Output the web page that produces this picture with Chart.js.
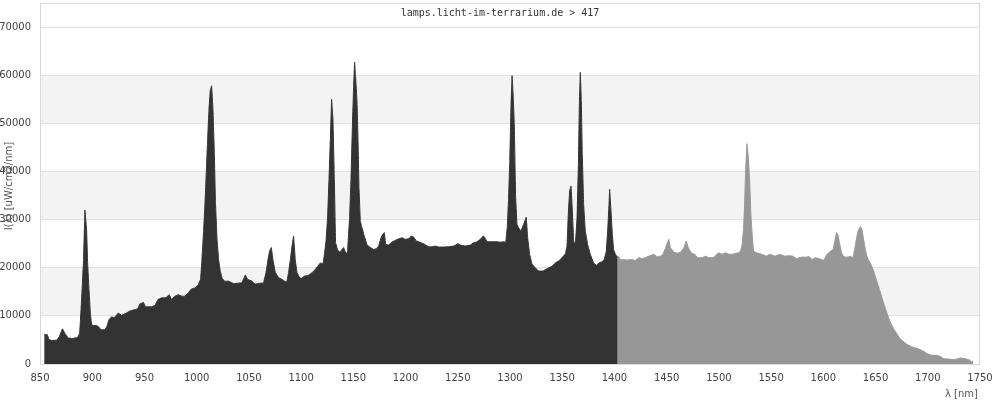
<!DOCTYPE html>
<html>
<head>
<meta charset="utf-8">
<script src="https://cdn.jsdelivr.net/npm/chart.js@4/dist/chart.umd.min.js"></script>
<style>
  html, body { margin: 0; padding: 0; background: #fff; }
  #wrap { width: 1000px; height: 400px; }
</style>
</head>
<body>
<div id="wrap"><canvas id="spectrum"></canvas></div>
<script>
// Titel und Achsen
const titleText = 'lamps.licht-im-terrarium.de > 417';
const yTitle = 'I(λ) [uW/cm2/nm]';
const xTitle = 'λ [nm]';

// Messwerte, dunkler Teil (bis ~1403 nm)
const darkNm = [854, 857, 858.5, 861, 866, 868.5, 871.5, 874, 877, 881, 886, 888, 889.3, 890.5, 891.7, 893, 894.6, 895.6, 896.9, 898.2,
  899.4, 901, 904, 906, 907.5, 909, 912, 914, 916, 918.5, 921, 925, 928, 932, 936, 941, 943.5, 945.7, 949, 951,
  953, 957, 960, 963, 966.5, 970, 971.5, 973.8, 976, 979, 982.4, 985.6, 988.8, 992, 995, 998.4, 1001.6, 1003.8, 1005, 1006.6,
  1008, 1009.2, 1010.5, 1011.8, 1013, 1014.3, 1015.6, 1016.9, 1018, 1019.5, 1021, 1022.6, 1024.3, 1026.5, 1030.6, 1035.4, 1040, 1043.4, 1045, 1046.6,
  1048.8, 1053, 1056, 1061, 1064, 1066.4, 1068.3, 1069.8, 1071.5, 1073, 1075.3, 1078.5, 1081.7, 1084.9, 1086.5, 1088, 1089.7, 1091.3, 1092.8, 1094.4,
  1096, 1098.6, 1100.5, 1103, 1107, 1110.4, 1113.6, 1115.8, 1118.4, 1121, 1122.5, 1124, 1125.4, 1126.7, 1128, 1129.2, 1130.5, 1131.8, 1133, 1135,
  1136.9, 1138.5, 1140.7, 1142.6, 1143.5, 1144.5, 1146.4, 1147.8, 1149, 1150.3, 1151.2, 1152.2, 1153.5, 1154.5, 1155.4, 1156.7, 1158.3, 1160.5, 1163, 1165.5,
  1169.4, 1172, 1174.2, 1176.5, 1178, 1179.7, 1181, 1183.8, 1186, 1190.2, 1193.3, 1196.6, 1199.8, 1203, 1205.5, 1207.7, 1210.3, 1213.5, 1217.3, 1221,
  1223.5, 1228.5, 1231.6, 1236.4, 1241.2, 1246, 1250, 1252.5, 1257.2, 1262, 1265.2, 1268.4, 1271.6, 1274.2, 1275.5, 1278, 1283, 1287.7, 1290.7, 1294,
  1296, 1297.4, 1298.6, 1299.8, 1301, 1302, 1302.9, 1304.1, 1305.4, 1306.7, 1308.3, 1310.5, 1313, 1315.6, 1316.9, 1318.8, 1321, 1324.2, 1327.4, 1331.6,
  1335.4, 1340.2, 1343.4, 1346.6, 1349.8, 1353, 1354.6, 1355.8, 1357.1, 1358.4, 1359.4, 1361, 1362.6, 1364.2, 1365.5, 1366.4, 1367.3, 1368.3, 1369.2, 1370.5,
  1372.1, 1374.3, 1376.9, 1380, 1382.7, 1385, 1388.1, 1390.3, 1392.2, 1393.5, 1394.8, 1395.4, 1396.7, 1398, 1399.2, 1400.9, 1403];
const darkVal = [6100, 6100, 5100, 4900, 4950, 5700, 7300, 6300, 5400, 5300, 5500, 6400, 11300, 16200, 21700, 32000, 28100, 21000, 15500, 10600,
  8200, 8000, 8000, 7800, 7300, 7100, 7100, 7800, 9200, 9800, 9600, 10600, 10100, 10500, 11000, 11300, 11450, 12500, 12800, 11900,
  11900, 11900, 12150, 13400, 13750, 13750, 13950, 14400, 13400, 14100, 14400, 14100, 14100, 14800, 15600, 15800, 16500, 17600, 21500, 27500,
  33500, 39800, 46700, 53000, 56800, 57800, 53000, 44000, 33500, 25900, 21700, 19300, 17900, 17200, 17200, 16700, 16800, 16900, 17700, 18500,
  17600, 17200, 16600, 16800, 16800, 19000, 21700, 23500, 24200, 21700, 19000, 17900, 17600, 17100, 17200, 19000, 21700, 24500, 26600, 21700,
  19000, 17900, 17800, 18250, 18400, 18950, 19650, 20300, 21000, 20800, 23100, 25900, 30700, 38400, 46700, 55000, 50900, 38400, 25200, 23700,
  23250, 23600, 24200, 23100, 22900, 23500, 30300, 38600, 48800, 57800, 62700, 59600, 54700, 46400, 36700, 29700, 28300, 26600, 24850, 24300,
  23800, 23950, 24500, 26200, 26900, 27300, 24850, 24700, 25200, 25700, 26000, 26250, 25900, 26000, 26600, 26400, 25550, 25300, 25000, 24500,
  24300, 24500, 24300, 24300, 24350, 24500, 25000, 24700, 24500, 24700, 25200, 25400, 25900, 26600, 26400, 25400, 25400, 25400, 25300, 25400,
  25300, 28500, 34200, 42200, 54000, 59900, 56450, 49850, 34570, 29000, 28300, 27600, 29000, 30500, 26250, 22800, 20800, 20000, 19300, 19300,
  19800, 20300, 21000, 21400, 22100, 22900, 24500, 31100, 35950, 37000, 33200, 25500, 24850, 30400, 41500, 54000, 60600, 54700, 43600, 33200,
  27600, 24850, 22800, 21000, 20500, 21000, 21250, 21700, 23450, 27600, 33200, 36300, 31800, 26900, 23800, 22800, 22200];

// Messwerte, heller Teil (ab ~1403 nm)
const grayNm = [1402.5, 1404, 1406, 1408, 1412, 1417, 1420, 1423.3, 1426.5, 1429.7, 1434.5, 1437.7, 1440.9, 1444, 1446.4, 1449, 1450.6, 1452, 1453.6, 1457,
  1460.2, 1463.4, 1466.5, 1468.8, 1470.7, 1473.8, 1477, 1479.3, 1484, 1487, 1490.2, 1495, 1498, 1499.7, 1503, 1506.6, 1509.8, 1513, 1516, 1519.3,
  1521, 1522.3, 1523.6, 1524.6, 1525.5, 1526.9, 1528.1, 1529.4, 1530.7, 1532, 1533.2, 1536, 1541, 1545.6, 1548.8, 1553.6, 1558.4, 1563, 1568, 1571,
  1574.3, 1579, 1584, 1586, 1589.2, 1592.4, 1595.6, 1598.8, 1600.4, 1603.5, 1606.8, 1609.4, 1611, 1612.6, 1614.2, 1615.5, 1617.4, 1619.4, 1622.6, 1625.8,
  1628.4, 1630, 1631.6, 1633.2, 1635.4, 1637, 1638.6, 1640.2, 1641.8, 1643.4, 1645.7, 1648.1, 1650.7, 1652.9, 1655.2, 1657.7, 1660.3, 1662.5, 1664.8, 1667.3,
  1669.9, 1673, 1676.9, 1680.7, 1684.9, 1689.7, 1692.9, 1696, 1699.3, 1704, 1708.9, 1712, 1715.3, 1720, 1725, 1728, 1731.4, 1736, 1739.5, 1741.4, 1743.5];
const grayVal = [22200, 22300, 21600, 21700, 21600, 21700, 21500, 22100, 21900, 22100, 22550, 22800, 22300, 22400, 22800, 24150, 25200, 25900, 24150, 23250,
  23000, 23250, 24150, 25550, 24150, 23000, 22800, 22100, 22100, 22400, 22100, 22100, 22800, 23100, 22800, 23100, 22800, 22800, 23000, 23100,
  23700, 24850, 28000, 32800, 39800, 45800, 43250, 38400, 30750, 26600, 23450, 23100, 22800, 22400, 22800, 22400, 22800, 22400, 22500, 22400,
  21900, 22200, 22200, 22400, 21700, 22100, 21900, 21700, 21500, 22800, 23450, 23800, 25550, 27300, 26700, 25200, 23100, 22300, 22200, 22400,
  22100, 23800, 25900, 27600, 28550, 28000, 25900, 23800, 22400, 21500, 20700, 19300, 17550, 16050, 14450, 12700, 10950, 9600, 8400, 7300,
  6450, 5400, 4600, 4000, 3550, 3250, 2980, 2630, 2150, 1800, 1800, 1580, 1100, 1040, 900, 1040, 1250, 1100, 900, 540, 540];

// Achsenbereich, Ticks und hinterlegte Streifen
const xRange = [850, 1750];
const yRange = [0, 75000];
const xTicks = [850, 900, 950, 1000, 1050, 1100, 1150, 1200, 1250, 1300, 1350, 1400, 1450, 1500, 1550, 1600, 1650, 1700, 1750];
const yTicks = [0, 10000, 20000, 30000, 40000, 50000, 60000, 70000];
const bands = [[10000, 20000], [30000, 40000], [50000, 60000]];

const toPoints = (xs, ys) => xs.map((x, i) => ({ x: x, y: ys[i] }));

// Streifen, Rahmen und Beschriftungen
const decor = {
  id: 'decor',
  beforeDraw(chart) {
    const { ctx, chartArea: a, scales: { y } } = chart;
    ctx.save();
    ctx.fillStyle = '#f3f3f3';
    bands.forEach(b => {
      const top = y.getPixelForValue(b[1]);
      const bot = y.getPixelForValue(b[0]);
      ctx.fillRect(a.left, top, a.right - a.left, bot - top);
    });
    ctx.restore();
  },
  afterDraw(chart) {
    const { ctx, chartArea: a } = chart;
    ctx.save();
    ctx.strokeStyle = '#d9d9d9';
    ctx.lineWidth = 1;
    ctx.strokeRect(a.left + 0.5, a.top + 0.5, a.right - a.left - 1, a.bottom - a.top);

    ctx.fillStyle = '#333';
    ctx.font = '10px "DejaVu Sans Mono"';
    ctx.textAlign = 'center';
    ctx.textBaseline = 'middle';
    ctx.fillText(titleText, 500, 13);

    ctx.fillStyle = '#555';
    ctx.font = '10px "DejaVu Sans"';
    ctx.textAlign = 'right';
    ctx.fillText(xTitle, 978, 394);

    ctx.translate(9, 186);
    ctx.rotate(-Math.PI / 2);
    ctx.textAlign = 'center';
    ctx.fillText(yTitle, 0, 0);
    ctx.restore();
  }
};

// kleine tension, damit der schnelle Pfad (Löcher an den Spitzen) nicht benutzt wird
const areaStyle = { borderWidth: 1, fill: 'origin', pointRadius: 0, tension: 0.0001 };

new Chart(document.getElementById('spectrum'), {
  type: 'line',
  data: {
    datasets: [
      Object.assign({ data: toPoints(darkNm, darkVal), backgroundColor: '#333333', borderColor: '#333333' }, areaStyle),
      Object.assign({ data: toPoints(grayNm, grayVal), backgroundColor: '#979797', borderColor: '#979797' }, areaStyle)
    ]
  },
  options: {
    responsive: true,
    maintainAspectRatio: false,
    animation: false,
    layout: { padding: { top: 3, right: 20, left: 0, bottom: 0 } },
    plugins: { legend: { display: false }, tooltip: { enabled: false } },
    scales: {
      x: {
        type: 'linear',
        min: xRange[0],
        max: xRange[1],
        afterBuildTicks: s => { s.ticks = xTicks.map(v => ({ value: v })); },
        afterFit: s => { s.height = 36; s.paddingLeft = 0; s.paddingRight = 0; },
        grid: { display: false, drawTicks: false },
        border: { display: false },
        ticks: { autoSkip: false, maxRotation: 0, padding: 8, color: '#444', font: { family: 'DejaVu Sans', size: 10 }, callback: v => String(v) }
      },
      y: {
        min: yRange[0],
        max: yRange[1],
        afterBuildTicks: s => { s.ticks = yTicks.map(v => ({ value: v })); },
        afterFit: s => { s.width = 40; s.paddingTop = 0; s.paddingBottom = 0; },
        grid: { color: '#e2e2e2', drawTicks: false },
        border: { display: false },
        ticks: { padding: 9, color: '#444', font: { family: 'DejaVu Sans', size: 10 }, callback: v => String(v) }
      }
    }
  },
  plugins: [decor]
});
</script>
</body>
</html>
